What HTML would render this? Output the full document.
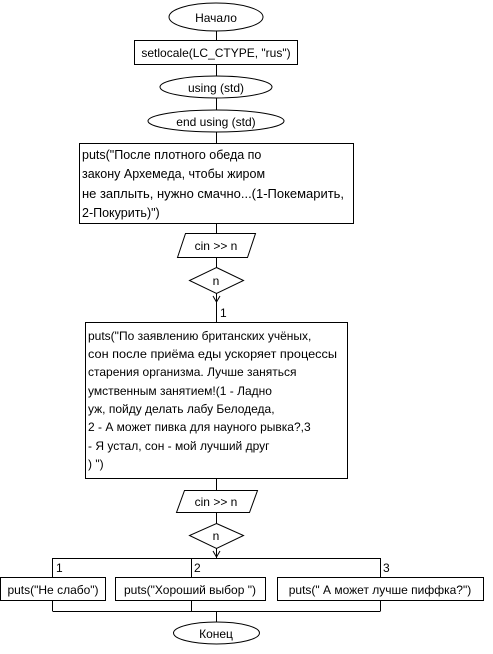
<!DOCTYPE html>
<html><head><meta charset="utf-8"><style>html,body{margin:0;padding:0;background:#fff}svg{display:block}</style></head><body>
<svg width="493" height="654" viewBox="0 0 493 654" xmlns="http://www.w3.org/2000/svg" font-family="Liberation Sans, DejaVu Sans, sans-serif" font-size="12" fill="#000">
<g stroke="#000" stroke-width="1" fill="none">
<line x1="216.5" y1="30" x2="216.5" y2="558"/>
<ellipse cx="216" cy="17" rx="47" ry="14" fill="#fff"/>
<rect x="134.5" y="40.5" width="163" height="24" fill="#fff"/>
<ellipse cx="216" cy="87" rx="56" ry="11" fill="#fff"/>
<ellipse cx="216" cy="121" rx="68" ry="11" fill="#fff"/>
<rect x="79.5" y="143.5" width="274" height="80" fill="#fff"/>
<polygon points="185.5,233.5 255.5,233.5 247.5,257.5 177.5,257.5" fill="#fff"/>
<polygon points="216.5,267.5 243.5,280.5 216.5,293.5 189.5,280.5" fill="#fff"/>
<polyline points="213,296 216.5,302 220,296"/>
<rect x="85.5" y="322.5" width="262" height="156" fill="#fff"/>
<polygon points="184.5,490.5 257.5,490.5 249.5,512.5 176.5,512.5" fill="#fff"/>
<polygon points="216.5,523.5 243.5,535.5 216.5,548.5 189.5,535.5" fill="#fff"/>
<polyline points="213,551 216.5,557 220,551"/>
<line x1="52.5" y1="558.5" x2="380.5" y2="558.5"/>
<line x1="52.5" y1="558" x2="52.5" y2="611"/>
<line x1="191.5" y1="558" x2="191.5" y2="611"/>
<line x1="380.5" y1="558" x2="380.5" y2="611"/>
<line x1="52.5" y1="611.5" x2="380.5" y2="611.5"/>
<line x1="216.5" y1="611" x2="216.5" y2="622"/>
<rect x="0.5" y="577.5" width="105" height="23" fill="#fff"/>
<rect x="115.5" y="577.5" width="150" height="23" fill="#fff"/>
<rect x="277.5" y="577.5" width="206" height="23" fill="#fff"/>
<ellipse cx="216.5" cy="633" rx="43" ry="11" fill="#fff"/>
</g>
<g text-anchor="middle">
<text x="216" y="22">Начало</text>
<text x="216" y="57">setlocale(LC_CTYPE, "rus")</text>
<text x="216" y="92">using (std)</text>
<text x="216" y="126">end using (std)</text>
<text x="216" y="250">cin &gt;&gt; n</text>
<text x="216" y="285">n</text>
<text x="216" y="506">cin &gt;&gt; n</text>
<text x="216" y="540">n</text>
<text x="53" y="594">puts("Не слабо")</text>
<text x="190" y="594">puts("Хороший выбор ")</text>
<text x="380" y="594">puts(" А может лучше пиффка?")</text>
<text x="216" y="638">Конец</text>
</g>
<g font-size="12.5">
<text x="82" y="159">puts("После плотного обеда по</text>
<text x="82" y="178">закону Архемеда, чтобы жиром</text>
<text x="82" y="198" textLength="262" lengthAdjust="spacingAndGlyphs">не заплыть, нужно смачно...(1-Покемарить,</text>
<text x="82" y="217">2-Покурить)")</text>
</g>
<text x="220" y="317">1</text>
<text x="88" y="340">puts("По заявлению британских учёных,</text>
<text x="88" y="358" textLength="249" lengthAdjust="spacingAndGlyphs">сон после приёма еды ускоряет процессы</text>
<text x="88" y="376">старения организма. Лучше заняться</text>
<text x="88" y="395">умственным занятием!(1 - Ладно</text>
<text x="88" y="413">уж, пойду делать лабу Белодеда,</text>
<text x="88" y="431">2 - А может пивка для науного рывка?,3</text>
<text x="88" y="450">- Я устал, сон - мой лучший друг</text>
<text x="88" y="468">) ")</text>
<text x="56" y="572">1</text>
<text x="194" y="572">2</text>
<text x="383" y="572">3</text>
</svg>
</body></html>
